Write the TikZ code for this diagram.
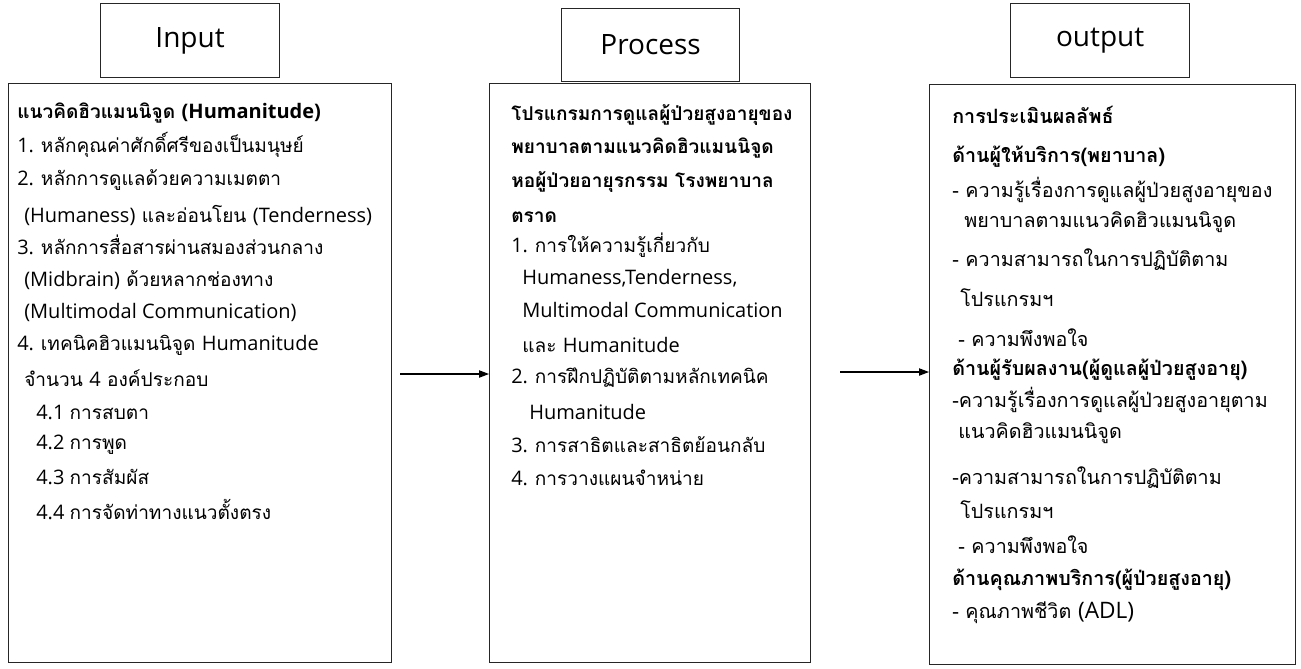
\documentclass[tikz,border=0pt]{standalone}
\usepackage{fontspec}
\setmainfont[Script=Thai]{Loma}
\newfontfamily\enfont{Open Sans}
\newcommand\ltn[1]{{\enfont\fontsize{15}{17}\selectfont #1}}
\usetikzlibrary{arrows.meta}
\begin{document}
\begin{tikzpicture}[x=0.75pt,y=-0.75pt,
  frame/.style={draw=black!85,line width=0.9pt,anchor=north west,inner sep=0pt},
  head/.style={frame,font=\enfont\fontsize{21}{23}\selectfont},
  txt/.style={anchor=west,inner sep=0pt,font=\fontsize{14.3}{16}\selectfont},
  btxt/.style={txt,font=\fontsize{14.3}{16}\selectfont\bfseries},
  otxt/.style={anchor=west,inner sep=0pt,font=\fontsize{14.8}{16}\selectfont},
  obtxt/.style={otxt,font=\fontsize{14.8}{16}\selectfont\bfseries},
  flow/.style={line width=0.8pt,-{Triangle[length=7.5pt,width=5.5pt]}}]
\useasboundingbox (0,0) rectangle (1301,668);
% headers
\node[head,minimum width=134.25pt,minimum height=55.5pt] (hin) at (100,3) {Input};
\node[head,minimum width=133.5pt,minimum height=54.75pt] (hpr) at (561,8) {Process};
\node[head,minimum width=134.25pt,minimum height=55.5pt] (hout) at (1010,3) {output};
% main boxes
\node[frame,minimum width=287.25pt,minimum height=434.25pt] (bin) at (8,83) {};
\node[frame,minimum width=240.75pt,minimum height=434.25pt] (bpr) at (489,83) {};
\node[frame,minimum width=274.5pt,minimum height=435pt] (bout) at (929,84) {};
% input text
\node[btxt] (i1) at (17,113) {แนวคิดฮิวแมนนิจูด \ltn{(Humanitude)}};
\node[txt] (i2) at (17,145) {\ltn{1. }หลักคุณค่าศักดิ์ศรีของเป็นมนุษย์};
\node[txt] (i3) at (17,180) {\ltn{2. }หลักการดูแลด้วยความเมตตา};
\node[txt] (i4) at (24,215) {\ltn{(Humaness)} และอ่อนโยน \ltn{(Tenderness)}};
\node[txt] (i5) at (17,245) {\ltn{3. }หลักการสื่อสารผ่านสมองส่วนกลาง};
\node[txt] (i6) at (24,280) {\ltn{(Midbrain)} ด้วยหลากช่องทาง};
\node[txt] (i7) at (24,312) {\ltn{(Multimodal Communication)}};
\node[txt] (i8) at (17,345) {\ltn{4. }เทคนิคฮิวแมนนิจูด \ltn{Humanitude}};
\node[txt] (i9) at (24,378) {จำนวน \ltn{4} องค์ประกอบ};
\node[txt] (i10) at (36,412) {\ltn{4.1 }การสบตา};
\node[txt] (i11) at (36,445) {\ltn{4.2 }การพูด};
\node[txt] (i12) at (36,477) {\ltn{4.3 }การสัมผัส};
\node[txt] (i13) at (36,510) {\ltn{4.4 }การจัดท่าทางแนวตั้งตรง};
% process text
\node[btxt] (p1) at (511,115) {โปรแกรมการดูแลผู้ป่วยสูงอายุของ};
\node[btxt] (p2) at (511,148) {พยาบาลตามแนวคิดฮิวแมนนิจูด};
\node[btxt] (p3) at (511,182) {หอผู้ป่วยอายุรกรรม โรงพยาบาล};
\node[btxt] (p4) at (511,217) {ตราด};
\node[txt] (p5) at (511,245) {\ltn{1. }การให้ความรู้เกี่ยวกับ};
\node[txt] (p6) at (522,278) {\ltn{Humaness,Tenderness,}};
\node[txt] (p7) at (522,310) {\ltn{Multimodal Communication}};
\node[txt] (p8) at (522,345) {และ \ltn{Humanitude}};
\node[txt] (p9) at (511,378) {\ltn{2. }การฝึกปฏิบัติตามหลักเทคนิค};
\node[txt] (p10) at (529,412) {\ltn{Humanitude}};
\node[txt] (p11) at (511,445) {\ltn{3. }การสาธิตและสาธิตย้อนกลับ};
\node[txt] (p12) at (511,478) {\ltn{4. }การวางแผนจำหน่าย};
% output text
\node[obtxt] (o1) at (952,115) {การประเมินผลลัพธ์};
\node[obtxt] (o2) at (952,157) {ด้านผู้ให้บริการ(พยาบาล)};
\node[otxt] (o3) at (952,190) {- ความรู้เรื่องการดูแลผู้ป่วยสูงอายุของ};
\node[otxt] (o4) at (964,222) {พยาบาลตามแนวคิดฮิวแมนนิจูด};
\node[otxt] (o5) at (952,260) {- ความสามารถในการปฏิบัติตาม};
\node[otxt] (o6) at (960,298) {โปรแกรมฯ};
\node[otxt] (o7) at (958,338) {- ความพึงพอใจ};
\node[obtxt] (o8) at (952,370) {ด้านผู้รับผลงาน(ผู้ดูแลผู้ป่วยสูงอายุ)};
\node[otxt] (o9) at (952,400) {-ความรู้เรื่องการดูแลผู้ป่วยสูงอายุตาม};
\node[otxt] (o10) at (958,433) {แนวคิดฮิวแมนนิจูด};
\node[otxt] (o11) at (952,478) {-ความสามารถในการปฏิบัติตาม};
\node[otxt] (o12) at (960,510) {โปรแกรมฯ};
\node[otxt] (o13) at (958,545) {- ความพึงพอใจ};
\node[obtxt] (o14) at (952,580) {ด้านคุณภาพบริการ(ผู้ป่วยสูงอายุ)};
\node[otxt] (o15) at (952,613) {- คุณภาพชีวิต {\enfont\fontsize{17}{19}\selectfont (ADL)}};
% arrows
\coordinate (a1) at (400,374);
\coordinate (a2) at (840,372);
\draw[flow] (a1) -- (bpr.west |- a1);
\draw[flow] (a2) -- (bout.west |- a2);
\end{tikzpicture}
\end{document}
